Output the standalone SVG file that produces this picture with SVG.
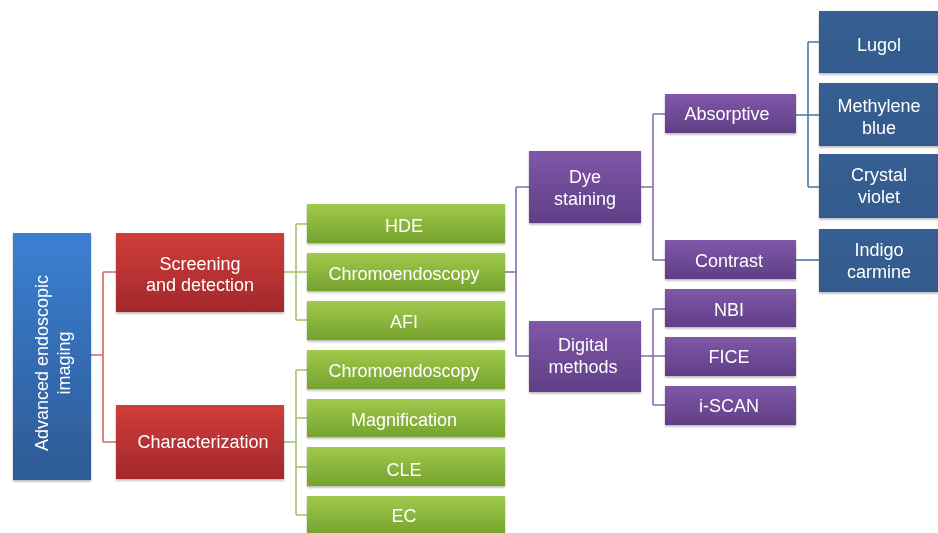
<svg xmlns="http://www.w3.org/2000/svg" width="938" height="533" viewBox="0 0 938 533">
<style>
text{font-family:"Liberation Sans",Arial,sans-serif;font-size:18px;fill:#fff;text-anchor:middle}
.c{fill:none;stroke-width:1.6}
.r{stroke:#d06a68}.g{stroke:#a3c46a}.p{stroke:#8b6bb0}.b{stroke:#4f76a8}
</style>
<defs>
<linearGradient id="gRoot" x1="0" y1="0" x2="0" y2="1"><stop offset="0" stop-color="#3c7fd2"/><stop offset="1" stop-color="#2d5a94"/></linearGradient>
<linearGradient id="gRed" x1="0" y1="0" x2="0" y2="1"><stop offset="0" stop-color="#d03d3b"/><stop offset="1" stop-color="#a2282a"/></linearGradient>
<linearGradient id="gGreen" x1="0" y1="0" x2="0" y2="1"><stop offset="0" stop-color="#9fca4c"/><stop offset="1" stop-color="#76a22e"/></linearGradient>
<linearGradient id="gPurple" x1="0" y1="0" x2="0" y2="1"><stop offset="0" stop-color="#8057a8"/><stop offset="1" stop-color="#5f3f86"/></linearGradient>
<linearGradient id="gBlue" x1="0" y1="0" x2="0" y2="1"><stop offset="0" stop-color="#375f93"/><stop offset="1" stop-color="#335a8c"/></linearGradient>
<filter id="sh" x="-10%" y="-10%" width="120%" height="130%"><feDropShadow dx="0" dy="1.5" stdDeviation="1.2" flood-color="#000" flood-opacity="0.3"/></filter>
</defs>
<g id="connectors">
<path class="c r" d="M91 355H103M103 272V442M103 272H116M103 442H116"/>
<path class="c g" d="M284 272H307M296 224V320M296 224H307M296 320H307"/>
<path class="c g" d="M284 442H296M296 370V515M296 370H307M296 418H307M296 467H307M296 515H307"/>
<path class="c p" d="M505 272H516M516 187V356M516 187H529M516 356H529"/>
<path class="c p" d="M641 187H653M653 114V260M653 114H665M653 260H665"/>
<path class="c p" d="M641 356H665M653 309V405M653 309H665M653 405H665"/>
<path class="c b" d="M796 115H819M808 42V187M808 42H819M808 187H819"/>
<path class="c b" d="M796 260H819"/>
</g>
<g id="root" filter="url(#sh)"><rect x="13" y="233" width="78" height="247" fill="url(#gRoot)"/>
<text transform="translate(52 363) rotate(-90)"><tspan x="0" y="-4">Advanced endoscopic</tspan><tspan x="0" y="18">imaging</tspan></text></g>
<g id="screening" filter="url(#sh)"><rect x="116" y="233" width="168" height="79" fill="url(#gRed)"/><text x="200" y="270">Screening</text><text x="200" y="291">and detection</text></g>
<g id="characterization" filter="url(#sh)"><rect x="116" y="405" width="168" height="74" fill="url(#gRed)"/><text x="203" y="448">Characterization</text></g>
<g id="hde" filter="url(#sh)"><rect x="307" y="204" width="198" height="39" fill="url(#gGreen)"/><text x="404" y="232">HDE</text></g>
<g id="chromo1" filter="url(#sh)"><rect x="307" y="253" width="198" height="38" fill="url(#gGreen)"/><text x="404" y="280">Chromoendoscopy</text></g>
<g id="afi" filter="url(#sh)"><rect x="307" y="301" width="198" height="39" fill="url(#gGreen)"/><text x="404" y="328">AFI</text></g>
<g id="chromo2" filter="url(#sh)"><rect x="307" y="350" width="198" height="39" fill="url(#gGreen)"/><text x="404" y="377">Chromoendoscopy</text></g>
<g id="magnification" filter="url(#sh)"><rect x="307" y="399" width="198" height="38" fill="url(#gGreen)"/><text x="404" y="426">Magnification</text></g>
<g id="cle" filter="url(#sh)"><rect x="307" y="447" width="198" height="39" fill="url(#gGreen)"/><text x="404" y="476">CLE</text></g>
<g id="ec" filter="url(#sh)"><rect x="307" y="496" width="198" height="39" fill="url(#gGreen)"/><text x="404" y="522">EC</text></g>
<g id="dye" filter="url(#sh)"><rect x="529" y="151" width="112" height="72" fill="url(#gPurple)"/><text x="585" y="183">Dye</text><text x="585" y="205">staining</text></g>
<g id="digital" filter="url(#sh)"><rect x="529" y="321" width="112" height="71" fill="url(#gPurple)"/><text x="583" y="351">Digital</text><text x="583" y="373">methods</text></g>
<g id="absorptive" filter="url(#sh)"><rect x="665" y="94" width="131" height="39" fill="url(#gPurple)"/><text x="727" y="120">Absorptive</text></g>
<g id="contrast" filter="url(#sh)"><rect x="665" y="240" width="131" height="39" fill="url(#gPurple)"/><text x="729" y="267">Contrast</text></g>
<g id="nbi" filter="url(#sh)"><rect x="665" y="289" width="131" height="38" fill="url(#gPurple)"/><text x="729" y="316">NBI</text></g>
<g id="fice" filter="url(#sh)"><rect x="665" y="337" width="131" height="39" fill="url(#gPurple)"/><text x="729" y="363">FICE</text></g>
<g id="iscan" filter="url(#sh)"><rect x="665" y="386" width="131" height="39" fill="url(#gPurple)"/><text x="729" y="412">i-SCAN</text></g>
<g id="lugol" filter="url(#sh)"><rect x="819" y="11" width="125" height="62" fill="url(#gBlue)"/><text x="879" y="51">Lugol</text></g>
<g id="methylene" filter="url(#sh)"><rect x="819" y="83" width="125" height="63" fill="url(#gBlue)"/><text x="879" y="112">Methylene</text><text x="879" y="134">blue</text></g>
<g id="crystal" filter="url(#sh)"><rect x="819" y="154" width="125" height="64" fill="url(#gBlue)"/><text x="879" y="181">Crystal</text><text x="879" y="203">violet</text></g>
<g id="indigo" filter="url(#sh)"><rect x="819" y="229" width="125" height="63" fill="url(#gBlue)"/><text x="879" y="256">Indigo</text><text x="879" y="278">carmine</text></g>
</svg>
